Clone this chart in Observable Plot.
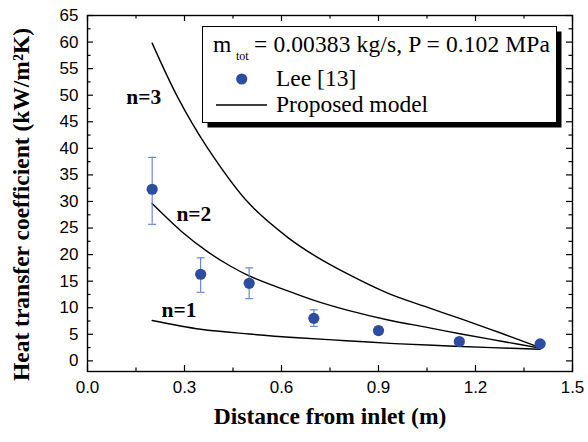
<!DOCTYPE html>
<html><head><meta charset="utf-8">
<script src="https://cdn.jsdelivr.net/npm/d3@7"></script>
<script src="https://cdn.jsdelivr.net/npm/@observablehq/plot@0.6"></script>
<style>
body{margin:0;background:#fff;}
#wrap{position:relative;width:588px;height:442px;}
#wrap svg.overlay{position:absolute;left:0;top:0;pointer-events:none;}
</style></head><body><div id="wrap"></div>
<script>
// Experimental data (Lee [13])
const leeX  = [0.2, 0.35, 0.5, 0.7, 0.9, 1.15, 1.4];
const leeY  = [32.3, 16.3, 14.6, 8.0, 5.7, 3.65, 3.2];
const leeLo = [25.7, 12.9, 11.7, 6.5, 5.0, 3.3, 2.9];
const leeHi = [38.3, 19.4, 17.5, 9.6, 6.4, 4.0, 3.5];

// Proposed model curves
const n1X = [0.2, 0.35, 0.5, 0.65, 0.8, 0.95, 1.1, 1.25, 1.4];
const n1Y = [7.6, 5.95, 5.05, 4.35, 3.8, 3.25, 2.85, 2.5, 2.2];
const n2X = [0.2, 0.29, 0.37, 0.44, 0.5, 0.64, 0.72, 0.8, 0.93, 1.05, 1.16, 1.28, 1.4];
const n2Y = [29.6, 24.4, 20.6, 17.9, 16.0, 12.7, 11.0, 9.6, 7.7, 6.3, 5.0, 3.7, 2.4];
const n3X = [0.2, 0.28, 0.37, 0.5, 0.62, 0.7, 0.8, 0.93, 1.05, 1.16, 1.28, 1.4];
const n3Y = [59.8, 49.5, 40.2, 29.6, 23.2, 19.9, 16.5, 12.7, 10.1, 7.8, 5.2, 2.5];

// Curve labels
const curveLabels = ["n=1", "n=2", "n=3"];
const labelX = [0.283, 0.329, 0.174];
const labelY = [9.5, 27.7, 49.7];

// Ticks
const xTicks = [0, 0.3, 0.6, 0.9, 1.2, 1.5];
const xMinor = [0.15, 0.45, 0.75, 1.05, 1.35];
const yTicks = d3.range(0, 66, 5);
const yMinor = d3.range(2.5, 65, 5);

const xTitle = "Distance from inlet (m)";
const yTitle = "Heat transfer coefficient (kW/m\u00B2K)";

const W = 588, H = 442, mL = 87, mR = 16, mT = 15, mB = 71;
const pw = W - mL - mR, ph = H - mT - mB;
const majorLen = 6, minorLen = 3.5;

const lee = leeX.map((x, i) => ({x, y: leeY[i], lo: leeLo[i], hi: leeHi[i]}));
const curve = (xs, ys) => xs.map((x, i) => ({x, y: ys[i]}));
const labels = curveLabels.map((t, i) => ({t, x: labelX[i], y: labelY[i]}));
const capSymbol = {draw(ctx) { ctx.moveTo(-4, 0); ctx.lineTo(4, 0); }};

const serif = "'Liberation Serif', 'Times New Roman', serif";

const plot = Plot.plot({
  width: W, height: H,
  marginLeft: mL, marginRight: mR, marginTop: mT, marginBottom: mB,
  x: {domain: [0, 1.5]},
  y: {domain: [-2, 65]},
  style: {fontFamily: "'Liberation Sans', Arial, sans-serif", fontSize: "17px", color: "#000", background: "#fff"},
  marks: [
    // inward ticks: left, right, bottom, top
    Plot.tickY(yTicks, {y: d => d, insetRight: pw - majorLen, stroke: "#000", strokeWidth: 1.2}),
    Plot.tickY(yMinor, {y: d => d, insetRight: pw - minorLen, stroke: "#000", strokeWidth: 1.2}),
    Plot.tickY(yTicks, {y: d => d, insetLeft: pw - majorLen, stroke: "#000", strokeWidth: 1.2}),
    Plot.tickY(yMinor, {y: d => d, insetLeft: pw - minorLen, stroke: "#000", strokeWidth: 1.2}),
    Plot.tickX(xTicks, {x: d => d, insetTop: ph - majorLen, stroke: "#000", strokeWidth: 1.2}),
    Plot.tickX(xMinor, {x: d => d, insetTop: ph - minorLen, stroke: "#000", strokeWidth: 1.2}),
    Plot.tickX(xTicks, {x: d => d, insetBottom: ph - majorLen, stroke: "#000", strokeWidth: 1.2}),
    Plot.tickX(xMinor, {x: d => d, insetBottom: ph - minorLen, stroke: "#000", strokeWidth: 1.2}),
    Plot.frame({stroke: "#000", strokeWidth: 1.4}),
    Plot.axisX({ticks: xTicks, tickSize: 0, tickPadding: 9, tickFormat: d => d.toFixed(1), label: null}),
    Plot.axisY({ticks: yTicks, tickSize: 0, tickPadding: 9, label: null}),
    // model curves
    Plot.line(curve(n1X, n1Y), {x: "x", y: "y", curve: "catmull-rom", stroke: "#000", strokeWidth: 1.4}),
    Plot.line(curve(n2X, n2Y), {x: "x", y: "y", curve: "catmull-rom", stroke: "#000", strokeWidth: 1.4}),
    Plot.line(curve(n3X, n3Y), {x: "x", y: "y", curve: "catmull-rom", stroke: "#000", strokeWidth: 1.4}),
    // error bars
    Plot.ruleX(lee, {x: "x", y1: "lo", y2: "hi", stroke: "#5b7fd0", strokeWidth: 1.1}),
    Plot.dot(lee, {x: "x", y: "lo", symbol: capSymbol, stroke: "#5b7fd0", strokeWidth: 1.1, fill: "none"}),
    Plot.dot(lee, {x: "x", y: "hi", symbol: capSymbol, stroke: "#5b7fd0", strokeWidth: 1.1, fill: "none"}),
    Plot.dot(lee, {x: "x", y: "y", r: 5.6, fill: "#2c4da0", stroke: "none"}),
    // curve labels
    Plot.text(labels, {x: "x", y: "y", text: "t", fontFamily: serif, fontWeight: "bold", fontSize: 21.5}),
    // axis titles
    Plot.text([xTitle], {frameAnchor: "bottom", textAnchor: "middle", dy: 52, fontFamily: serif, fontWeight: "bold", fontSize: 23.5}),
    Plot.text([yTitle], {frameAnchor: "left", textAnchor: "middle", dx: -66, dy: 11, rotate: -90, fontFamily: serif, fontWeight: "bold", fontSize: 23.5})
  ]
});

const wrap = document.getElementById("wrap");
wrap.appendChild(plot);

// Legend overlay
const ov = d3.select(wrap).append("svg").attr("class", "overlay").attr("width", W).attr("height", H)
  .style("font-family", serif);
const bx = 202.5, by = 26.5, bw = 354, bh = 96;
ov.append("rect").attr("x", bx + 5).attr("y", by + 5).attr("width", bw).attr("height", bh).attr("fill", "#000");
ov.append("rect").attr("x", bx).attr("y", by).attr("width", bw).attr("height", bh).attr("fill", "#fff").attr("stroke", "#000").attr("stroke-width", 1);
ov.append("text").attr("x", 213).attr("y", 52).attr("font-size", 23.5).text("m");
ov.append("text").attr("x", 236).attr("y", 60).attr("font-size", 12).text("tot");
ov.append("text").attr("x", 254).attr("y", 52).attr("font-size", 23.5)
  .attr("textLength", 296).attr("lengthAdjust", "spacing").text("= 0.00383 kg/s, P = 0.102 MPa");
ov.append("circle").attr("cx", 241.7).attr("cy", 79).attr("r", 5.6).attr("fill", "#2c4da0");
ov.append("text").attr("x", 276).attr("y", 86).attr("font-size", 23.5).text("Lee [13]");
ov.append("line").attr("x1", 216).attr("x2", 267).attr("y1", 105).attr("y2", 105).attr("stroke", "#000").attr("stroke-width", 1.4);
ov.append("text").attr("x", 276).attr("y", 112).attr("font-size", 23.5).text("Proposed model");
</script>
</body></html>
